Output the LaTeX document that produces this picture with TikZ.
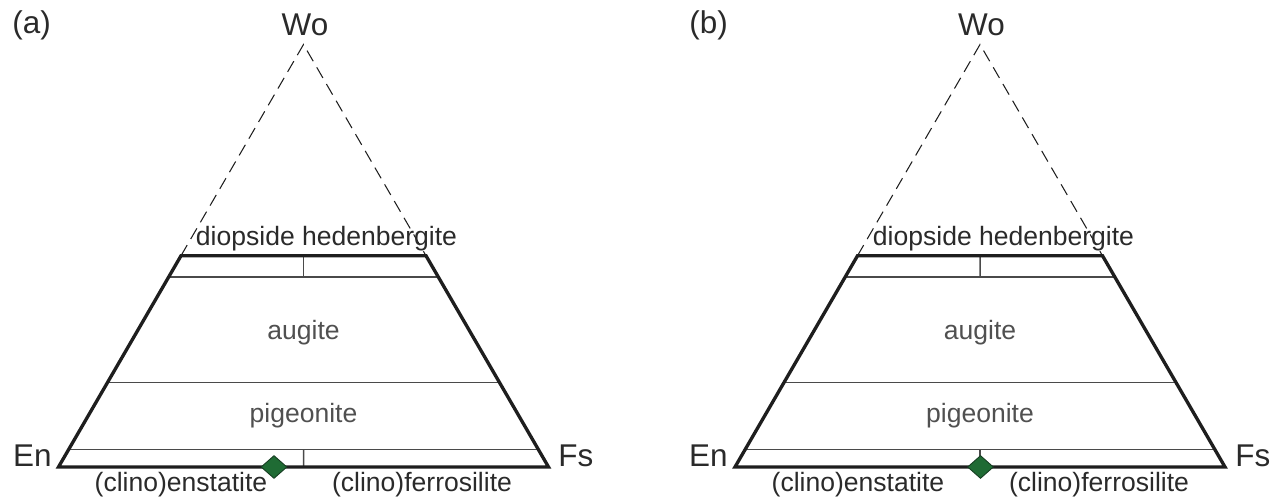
\documentclass[tikz,border=0pt]{standalone}
\usepackage{fontspec}
\setmainfont{Liberation Sans}
\usepackage{tikz}
\usetikzlibrary{shapes.geometric, calc, positioning}
\definecolor{pxLine}{HTML}{1E1E1E}
\definecolor{pxGrid}{HTML}{4A4A4A}
\definecolor{pxText}{HTML}{2A2A2A}
\definecolor{pxTextLight}{HTML}{505050}
\definecolor{pxGreen}{HTML}{1F6B34}
\definecolor{pxGreenDark}{HTML}{163D22}

\begin{document}
\begin{tikzpicture}[
  x=0.02cm, y=-0.02cm,
  %% --- Line styles ---
  outline/.style={draw=pxLine, line width=1.9pt, line join=miter},
  divide/.style={draw=pxGrid, line width=0.85pt},
  dashside/.style={draw=pxLine, line width=0.6pt, dash pattern=on 7pt off 4pt},
  %% --- Text styles ---
  corner/.style={font=\fontsize{17.9}{21}\selectfont, text=pxText, inner sep=0pt},
  field/.style={font=\fontsize{15.1}{18}\selectfont, text=pxText, inner sep=0pt, anchor=base},
  fieldLight/.style={field, text=pxTextLight},
  %% --- Data point ---
  marker/.style={diamond, fill=pxGreen, draw=pxGreenDark, line width=0.5pt,
    minimum width=0.52cm, minimum height=0.46cm, inner sep=0pt}
]
\useasboundingbox (0,0) rectangle (1281,502);

%% =========================================================
%% PANEL (a)
%% =========================================================
\coordinate (woA) at (303.5,44.5);
\coordinate (enA) at (58.5,467);
\coordinate (fsA) at (548.5,467);
\coordinate (diA)  at ($(enA)!0.5!(woA)$);
\coordinate (heA)  at ($(fsA)!0.5!(woA)$);
\coordinate (augLA) at ($(enA)!0.45!(woA)$);
\coordinate (augRA) at ($(fsA)!0.45!(woA)$);
\coordinate (pigLA) at ($(enA)!0.2!(woA)$);
\coordinate (pigRA) at ($(fsA)!0.2!(woA)$);
\coordinate (cenLA) at ($(enA)!0.041!(woA)$);
\coordinate (cenRA) at ($(fsA)!0.041!(woA)$);

\draw[divide] (augLA) -- (augRA);
\draw[divide] (pigLA) -- (pigRA);
\draw[divide] (cenLA) -- (cenRA);
\draw[divide] ($(diA)!0.5!(heA)$) -- ($(augLA)!0.5!(augRA)$);
\draw[divide] ($(cenLA)!0.5!(cenRA)$) -- ($(enA)!0.5!(fsA)$);
\draw[dashside] (diA) -- (woA) -- (heA);
\draw[outline] (diA) -- (heA) -- (fsA) -- (enA) -- cycle;

\node (tagA)   [corner, anchor=base west] at (12,34)  {(a)};
\node (woLabA) [corner, anchor=base]      at (305,36) {Wo};
\node (enLabA) [corner, anchor=base east] at (52,467) {En};
\node (fsLabA) [corner, anchor=base west] at (558,467) {Fs};

\node (diHdA) [field]      at (326.5,246) {diopside hedenbergite};
\node (augA)  [fieldLight] at (303.5,340) {augite};
\node (pigA)  [fieldLight] at (303.5,423) {pigeonite};
\node (cenA)  [field]      at (181,492)   {(clino)enstatite};
\node (cfsA)  [field]      at (422,492)   {(clino)ferrosilite};

\node (ptA) [marker] at (274,467) {};

%% =========================================================
%% PANEL (b)
%% =========================================================
\coordinate (woB) at (980,44.5);
\coordinate (enB) at (735,467);
\coordinate (fsB) at (1225,467);
\coordinate (diB)  at ($(enB)!0.5!(woB)$);
\coordinate (heB)  at ($(fsB)!0.5!(woB)$);
\coordinate (augLB) at ($(enB)!0.45!(woB)$);
\coordinate (augRB) at ($(fsB)!0.45!(woB)$);
\coordinate (pigLB) at ($(enB)!0.2!(woB)$);
\coordinate (pigRB) at ($(fsB)!0.2!(woB)$);
\coordinate (cenLB) at ($(enB)!0.041!(woB)$);
\coordinate (cenRB) at ($(fsB)!0.041!(woB)$);

\draw[divide] (augLB) -- (augRB);
\draw[divide] (pigLB) -- (pigRB);
\draw[divide] (cenLB) -- (cenRB);
\draw[divide] ($(diB)!0.5!(heB)$) -- ($(augLB)!0.5!(augRB)$);
\draw[divide] ($(cenLB)!0.5!(cenRB)$) -- ($(enB)!0.5!(fsB)$);
\draw[dashside] (diB) -- (woB) -- (heB);
\draw[outline] (diB) -- (heB) -- (fsB) -- (enB) -- cycle;

\node (tagB)   [corner, anchor=base west] at (689,34)  {(b)};
\node (woLabB) [corner, anchor=base]      at (981.5,36) {Wo};
\node (enLabB) [corner, anchor=base east] at (728,467) {En};
\node (fsLabB) [corner, anchor=base west] at (1235,467) {Fs};

\node (diHdB) [field]      at (1003.5,246) {diopside hedenbergite};
\node (augB)  [fieldLight] at (980,340)  {augite};
\node (pigB)  [fieldLight] at (980,423)  {pigeonite};
\node (cenB)  [field]      at (858,492)  {(clino)enstatite};
\node (cfsB)  [field]      at (1099,492) {(clino)ferrosilite};

\node (ptB) [marker] at (980.5,467) {};

\end{tikzpicture}
\end{document}
